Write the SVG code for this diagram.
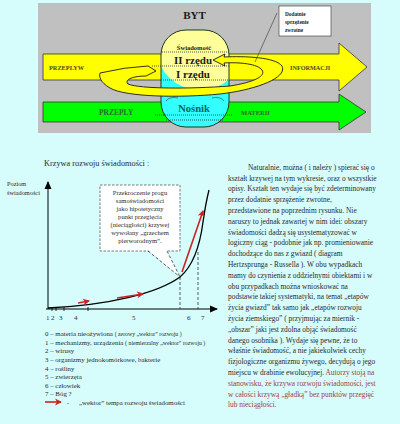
<svg xmlns="http://www.w3.org/2000/svg" width="400" height="424" viewBox="0 0 400 424">
<defs>
<style>
.sb{font-family:"Liberation Serif","Times New Roman",serif;font-weight:bold}
.s{font-family:"Liberation Serif","Times New Roman",serif;fill:#2a2a2a}
.dot{stroke:#333;stroke-width:0.8;stroke-dasharray:1,1;fill:none}
.dash{stroke:#333;stroke-width:0.8;stroke-dasharray:3,2;fill:none}
.red{stroke:#cc2222;stroke-width:1.6;fill:none}
</style>
<clipPath id="cap"><rect x="161" y="30" width="68" height="97" rx="25" ry="25"/></clipPath>
<marker id="ah" markerWidth="8" markerHeight="8" refX="7" refY="4" orient="auto" markerUnits="userSpaceOnUse"><path d="M0,0.5 L8,4 L0,7.5 Z" fill="#000"/></marker>
<marker id="rh" markerWidth="8" markerHeight="8" refX="6" refY="4" orient="auto" markerUnits="userSpaceOnUse"><path d="M0,0.5 L7,4 L0,7.5 L2,4 Z" fill="#cc2222"/></marker>
</defs>
<rect width="400" height="424" fill="#d6fcfc"/>
<g id="panel">
<rect x="38" y="3" width="333" height="130" fill="#c0c0c0"/>
</g>
<g id="arrow-informacji">
<polygon points="43,54 339,54 339,43 367,67 339,91 339,80 43,80" fill="#ffff00" stroke="#333" stroke-width="0.8"/>
<text class="sb" x="49" y="69.5" font-size="6.3" fill="#4a4a1a">PRZEPLYW</text>
<text class="sb" x="290" y="69.5" font-size="6.2" fill="#4a4a1a">INFORMACJI</text>
</g>
<g id="arrow-materii">
<polygon points="43,102 339,102 339,94 366,112 339,130 339,122 43,122" fill="#00ff00" stroke="#333" stroke-width="0.8"/>
<text class="sb" x="99" y="115" font-size="7.5" fill="#336633">PRZEPLY</text>
<text class="sb" x="241" y="115" font-size="6.5" fill="#336633">MATERII</text>
</g>
<g id="byt">
<text class="sb" x="194.5" y="19" font-size="11" text-anchor="middle" fill="#1a1a1a">BYT</text>
<rect x="161" y="30" width="68" height="97" rx="25" ry="25" fill="#33ffff"/>
<ellipse cx="200" cy="52" rx="42" ry="38" fill="#ffff99" clip-path="url(#cap)"/>
<rect x="161" y="30" width="68" height="97" rx="25" ry="25" fill="none" stroke="#1a3a1a" stroke-width="1"/>
<line class="dot" x1="162" y1="52" x2="228" y2="52"/>
<line class="dot" x1="152" y1="66" x2="229" y2="66"/>
<line class="dot" x1="161" y1="80" x2="229" y2="80"/>
<line class="dot" x1="155" y1="115" x2="233" y2="115"/>
<line class="dot" x1="166" y1="120" x2="224" y2="120"/>
<path d="M166,101 Q170,96 178,98" stroke="#333" stroke-width="0.6" fill="none"/>
<path d="M212,98 Q220,96 224,101" stroke="#333" stroke-width="0.6" fill="none"/>
<text class="sb" x="194" y="50" font-size="6.5" text-anchor="middle" fill="#1a1a1a">Świadomość</text>
<text class="sb" x="193" y="63.5" font-size="11" text-anchor="middle" fill="#1a1a1a">II rzędu</text>
<text class="sb" x="193" y="77.5" font-size="11" text-anchor="middle" fill="#1a1a1a">I rzędu</text>
<text class="sb" x="194" y="112" font-size="10.5" text-anchor="middle" fill="#006666">Nośnik</text>
</g>
<g id="loop">
<path d="M100,73 Q125,67 148,66 L156,71 L146,76 C132,76 124,80 128,84 C140,89 190,89 230,86 C255,82 266,76 262,70 C258,64 240,62 224,63 L225,66 L213,60 L225,54 L224,57 C245,56 275,57 282,66 C288,78 255,90 220,94 C180,98 125,97 110,88 C100,82 99,77 100,73 Z" fill="#ffff00" stroke="#1a1a1a" stroke-width="0.9" stroke-linejoin="round"/>
</g>
<g id="note">
<line x1="277" y1="13" x2="255" y2="62" stroke="#333" stroke-width="0.6"/>
<rect x="279" y="6" width="52" height="30" fill="#ffffff" stroke="#333" stroke-width="0.6"/>
<text class="sb" x="285" y="15.5" font-size="5.3" fill="#1a1a1a">Dodatnie</text>
<text class="sb" x="285" y="24" font-size="5.3" fill="#1a1a1a">sprzężenie</text>
<text class="sb" x="285" y="32" font-size="5.3" fill="#1a1a1a">zwrotne</text>
</g>
<text class="s" x="44" y="166" font-size="8.3">Krzywa rozwoju świadomości :</text>
<g id="axes">
<line x1="48" y1="309" x2="48" y2="182" stroke="#000" stroke-width="1" marker-end="url(#ah)"/>
<line x1="46" y1="309" x2="217" y2="309" stroke="#000" stroke-width="1" marker-end="url(#ah)"/>
<path d="M52,307V311M56,307V311M64,307V311M88,307V311" stroke="#000" stroke-width="0.8"/>
<text class="s" x="7" y="185.5" font-size="6.3">Poziom</text>
<text class="s" x="7" y="194.5" font-size="6.3">świadomości</text>
<g class="s" font-size="7" fill="#333">
<text x="46" y="320">1</text><text x="51" y="320">2</text><text x="59" y="320">3</text><text x="74" y="320">4</text><text x="132" y="320">5</text><text x="187" y="320">6</text><text x="201" y="320">7</text>
</g>
</g>
<g id="connectors">
<line class="dash" x1="180" y1="277" x2="180" y2="309"/>
<line class="dash" x1="198" y1="252" x2="198" y2="309"/>
<path d="M48,308 C110,305 158,293 180,277 C193,266 200,245 203,222 C205,208 207,198 209,190" stroke="#000" stroke-width="1.3" fill="none"/>
<path class="red" d="M78,303 L89,301" marker-end="url(#rh)"/>
<path class="red" d="M117,298 L143,294" marker-end="url(#rh)"/>
<path class="red" d="M182,272 L203,211" marker-end="url(#rh)"/>
</g>
<g id="callout">
<rect x="100" y="185" width="80" height="66" fill="#ffffff" stroke="#444" stroke-width="0.7" stroke-dasharray="2.5,1.5"/>
<polygon points="148,250 180,277 167,250" fill="#ffffff"/>
<line class="dash" x1="148" y1="251" x2="180" y2="277"/>
<line class="dash" x1="167" y1="251" x2="180" y2="277"/>
<g class="s" font-size="6.6" text-anchor="middle">
<text x="140" y="195">Przekroczenie progu</text>
<text x="140" y="203">samoświadomości</text>
<text x="140" y="210.5">jako hipotetyczny</text>
<text x="140" y="218.5">punkt przegięcia</text>
<text x="140" y="226.5">(nieciągłości) krzywej</text>
<text x="140" y="234.5">wywołany „grzechem</text>
<text x="140" y="242.5">pierworodnym”.</text>
</g>
</g>
<g id="legend" class="s" font-size="6.9">
<text x="45" y="335.5">0 – materia nieożywiona <tspan font-size="5.8">( zerowy „wektor” rozwoju )</tspan></text>
<text x="45" y="344.5">1 – mechanizmy, urządzenia <tspan font-size="5.8">( niemierzalny „wektor” rozwoju )</tspan></text>
<text x="45" y="353">2 – wirusy</text>
<text x="45" y="361.5">3 – organizmy jednokomórkowe, bakterie</text>
<text x="45" y="370.5">4 – rośliny</text>
<text x="45" y="379">5 – zwierzęta</text>
<text x="45" y="387.5">6 – człowiek</text>
<text x="45" y="396">7 – Bóg ?</text>
<path class="red" d="M45,402 L61,402" marker-end="url(#rh)"/>
<text x="67" y="404.5">-</text>
<text x="79" y="404.5">„wektor” tempa rozwoju świadomości</text>
</g>
<g id="paragraph" class="s" font-size="7.4">
<text x="248" y="169.8">Naturalnie, można ( i należy ) spierać się o</text>
<text x="228" y="180.6">kształt krzywej na tym wykresie, oraz o wszystkie</text>
<text x="228" y="191.4">opisy. Kształt ten wydaje się być zdeterminowany</text>
<text x="228" y="202.2">przez dodatnie sprzężenie zwrotne,</text>
<text x="228" y="213">przedstawione na poprzednim rysunku. Nie</text>
<text x="228" y="223.8">naruszy to jednak zawartej w nim idei: obszary</text>
<text x="228" y="234.6">świadomości dadzą się usystematyzować w</text>
<text x="228" y="245.4">logiczny ciąg - podobnie jak np. promieniowanie</text>
<text x="228" y="256.2">dochodzące do nas z gwiazd ( diagram</text>
<text x="228" y="267">Hertzsprunga - Russella ). W obu wypadkach</text>
<text x="228" y="277.8">mamy do czynienia z oddzielnymi obiektami i w</text>
<text x="228" y="288.6">obu przypadkach można wnioskować na</text>
<text x="228" y="299.4">podstawie takiej systematyki, na temat „etapów</text>
<text x="228" y="310.2">życia gwiazd” tak samo jak „etapów rozwoju</text>
<text x="228" y="321">życia ziemskiego” ( przyjmując za miernik -</text>
<text x="228" y="331.8">„obszar” jaki jest zdolna objąć świadomość</text>
<text x="228" y="342.6">danego osobnika ). Wydaje się pewne, że to</text>
<text x="228" y="353.4">właśnie świadomość, a nie jakiekolwiek cechy</text>
<text x="228" y="364.2">fizjologiczne organizmu żywego, decydują o jego</text>
<text x="228" y="375">miejscu w drabinie ewolucyjnej. <tspan fill="#a03c3c">Autorzy stoją na</tspan></text>
<text x="228" y="385.8" fill="#a03c3c">stanowisku, że krzywa rozwoju świadomości, jest</text>
<text x="228" y="396.6" fill="#a03c3c">w całości krzywą „gładką” bez punktów przegięć</text>
<text x="228" y="407.4" fill="#a03c3c">lub nieciągłości.</text>
</g>
</svg>
